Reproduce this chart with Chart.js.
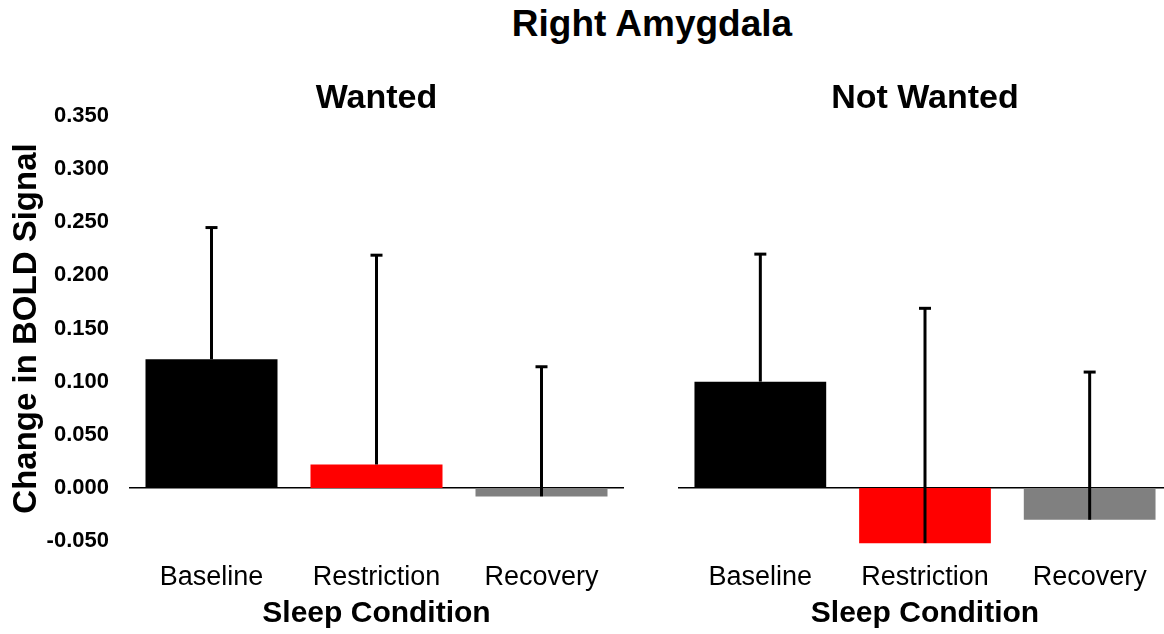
<!DOCTYPE html>
<html>
<head>
<meta charset="utf-8">
<script src="https://cdn.jsdelivr.net/npm/chart.js@4"></script>
<style>
  html, body { margin: 0; padding: 0; background: #fff; overflow: hidden; }
  #page { position: relative; width: 1164px; height: 634px; }
  #mainTitle {
    position: absolute; left: 0; width: 1304px; top: 3px;
    text-align: center; font: bold 37px "Liberation Sans", Arial, sans-serif; color: #000;
  }
  #leftChart { position: absolute; left: 0; top: 0; }
  #rightChart { position: absolute; left: 640px; top: 0; }
</style>
</head>
<body>
<div id="page">
  <div id="mainTitle">Right Amygdala</div>
  <canvas id="leftChart" width="640" height="634"></canvas>
  <canvas id="rightChart" width="540" height="634"></canvas>
</div>
<script>
var categories = ['Baseline', 'Restriction', 'Recovery'];
var barColors = ['#000000', '#ff0000', '#808080'];

var wantedValues = [0.121, 0.022, -0.008];
var wantedErrors = [0.124, 0.197, 0.122];

var notWantedValues = [0.100, -0.052, -0.030];
var notWantedErrors = [0.120, 0.221, 0.139];

var yMin = -0.05;
var yMax = 0.35;
var yStep = 0.05;

var FONT = '"Liberation Sans", Arial, sans-serif';

// draws the upper error bar from the end of each bar
var errorBarPlugin = {
    id: 'errorBars',
    afterDatasetsDraw: function (chart) {
        var ctx = chart.ctx;
        var yScale = chart.scales.y;
        chart.data.datasets.forEach(function (ds, di) {
            var meta = chart.getDatasetMeta(di);
            meta.data.forEach(function (bar, i) {
                var top = yScale.getPixelForValue(ds.data[i] + ds.errors[i]);
                ctx.save();
                ctx.strokeStyle = '#000';
                ctx.lineWidth = 3;
                ctx.beginPath();
                ctx.moveTo(bar.x, bar.y);
                ctx.lineTo(bar.x, top);
                ctx.stroke();
                ctx.beginPath();
                ctx.moveTo(bar.x - 6, top);
                ctx.lineTo(bar.x + 6, top);
                ctx.stroke();
                ctx.restore();
            });
        });
    }
};

function buildChart(canvasId, title, values, errors, showYAxis, leftPad, rightPad) {
    var ctx = document.getElementById(canvasId);
    return new Chart(ctx, {
        type: 'bar',
        data: {
            labels: categories,
            datasets: [{
                data: values,
                errors: errors,
                backgroundColor: barColors,
                borderWidth: 0,
                barPercentage: 0.8,
                categoryPercentage: 1.0,
                clip: false
            }]
        },
        options: {
            responsive: false,
            animation: false,
            layout: { padding: { left: leftPad, right: rightPad, top: 0, bottom: 0 } },
            plugins: {
                legend: { display: false },
                tooltip: { enabled: false },
                title: {
                    display: true,
                    text: title,
                    fullSize: false,
                    color: '#000',
                    font: { family: FONT, size: 34, weight: 'bold', lineHeight: 1 },
                    padding: { top: 82, bottom: 0 }
                }
            },
            scales: {
                x: {
                    grid: { display: false },
                    border: { display: false },
                    ticks: {
                        color: '#000',
                        padding: 12,
                        font: { family: FONT, size: 27 }
                    },
                    title: {
                        display: true,
                        text: 'Sleep Condition',
                        color: '#000',
                        font: { family: FONT, size: 30, weight: 'bold' },
                        padding: { top: 0, bottom: 2 }
                    },
                    afterFit: function (scale) { scale.height = 93; }
                },
                y: {
                    min: yMin,
                    max: yMax,
                    border: { display: false },
                    grid: {
                        drawTicks: false,
                        lineWidth: 1.5,
                        color: function (c) {
                            return Math.abs(c.tick.value) < 1e-9 ? '#000' : 'rgba(0,0,0,0)';
                        }
                    },
                    ticks: {
                        display: showYAxis,
                        stepSize: yStep,
                        padding: 20,
                        color: '#000',
                        font: { family: FONT, size: 22, weight: 'bold' },
                        callback: function (v) {
                            return Math.abs(v) < 1e-9 ? '0.000' : Number(v).toFixed(3);
                        }
                    },
                    title: {
                        display: showYAxis,
                        text: 'Change in BOLD Signal',
                        color: '#000',
                        font: { family: FONT, size: 33, weight: 'bold' },
                        padding: { top: 7, bottom: 0 }
                    },
                    afterFit: function (scale) { scale.width = showYAxis ? 129 : 0; }
                }
            }
        },
        plugins: [errorBarPlugin]
    });
}

buildChart('leftChart', 'Wanted', wantedValues, wantedErrors, true, 0, 16);
buildChart('rightChart', 'Not Wanted', notWantedValues, notWantedErrors, false, 38, 8);
</script>
</body>
</html>
